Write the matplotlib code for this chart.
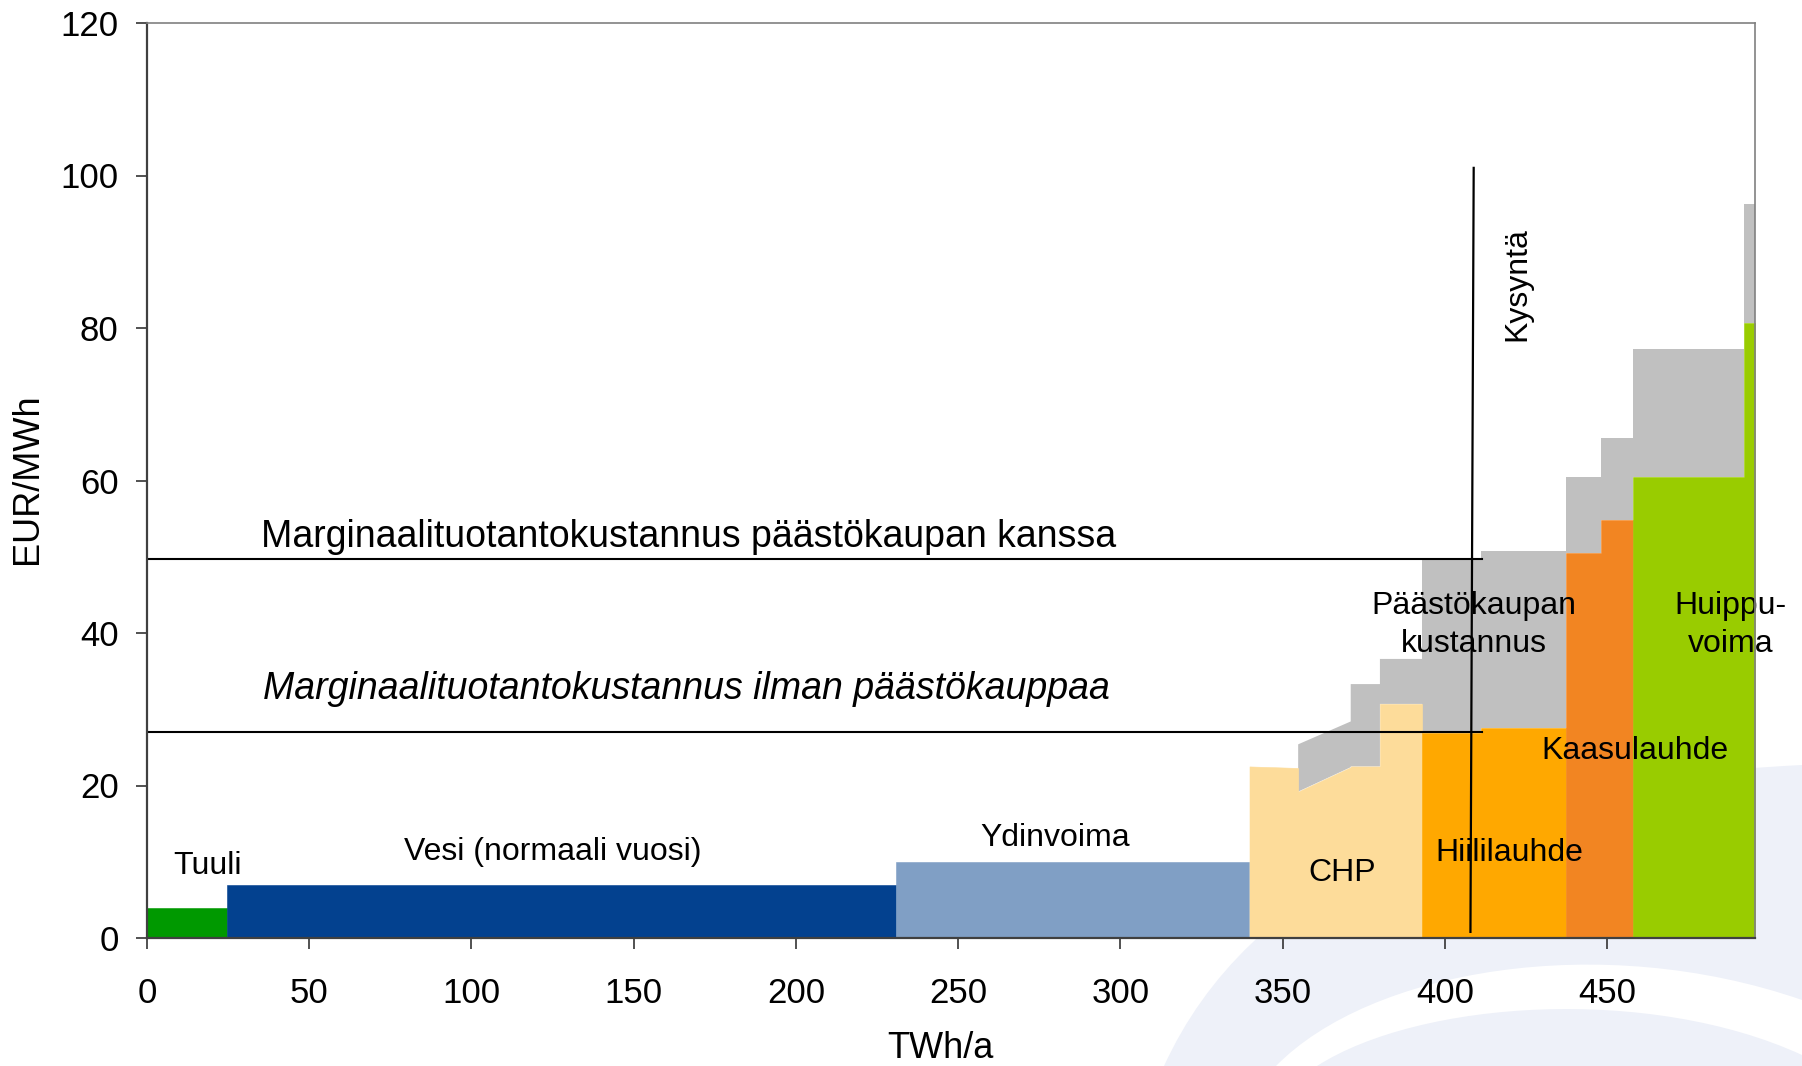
import matplotlib
matplotlib.use("Agg")
import matplotlib.pyplot as plt
from matplotlib.path import Path
from matplotlib.patches import PathPatch

plt.rcParams['font.family'] = ['Liberation Sans', 'DejaVu Sans']

# ---------------- data ----------------
tuuli_x = [0, 24.8]
tuuli_cost = [4.0, 4.0]
tuuli_co2 = [4.0, 4.0]

vesi_x = [24.8, 231]
vesi_cost = [7.0, 7.0]
vesi_co2 = [7.0, 7.0]

ydin_x = [231, 339.8]
ydin_cost = [10.0, 10.0]
ydin_co2 = [10.0, 10.0]

chp_x = [339.8, 354.8, 354.8, 371, 371, 380, 380, 393]
chp_cost = [22.5, 22.3, 19.2, 22.4, 22.5, 22.5, 30.7, 30.7]
chp_co2 = [22.5, 22.3, 25.4, 28.4, 33.3, 33.3, 36.6, 36.6]

hiili_x = [393, 411, 411, 437.2]
hiili_cost = [26.9, 26.9, 27.6, 27.6]
hiili_co2 = [49.7, 49.7, 50.7, 50.7]

kaasu_x = [437.2, 448, 448, 458]
kaasu_cost = [50.5, 50.5, 54.8, 54.8]
kaasu_co2 = [60.5, 60.5, 65.6, 65.6]

huippu_x = [458, 492.3, 492.3, 495.6]
huippu_cost = [60.5, 60.5, 80.7, 80.7]
huippu_co2 = [77.3, 77.3, 96.3, 96.3]

demand_x = [407.9, 408.9]
demand_y = [0.8, 101]

price_with_co2 = 49.7
price_without_co2 = 27.0
price_line_end = 411.5

x_ticks = [0, 50, 100, 150, 200, 250, 300, 350, 400, 450]
y_ticks = [0, 20, 40, 60, 80, 100, 120]

# ---------------- colours ----------------
c_tuuli = '#009900'
c_vesi = '#03418F'
c_ydin = '#809FC5'
c_chp = '#FDDC9A'
c_hiili = '#FFA800'
c_kaasu = '#F28522'
c_huippu = '#99CC00'
c_grey = '#C0C0C0'
c_wm = '#EEF1F9'

W, H = 1802, 1066
fig = plt.figure(figsize=(W / 100, H / 100), dpi=100)
fig.patch.set_facecolor('white')


# ---------------- watermark (background decoration) ----------------
def P(x, y):
    return (x / W, 1 - y / H)


wm_outer = Path([P(1164, 1066), P(1290, 790), P(1802, 765), P(1802, 1066), P(1164, 1066)],
                [Path.MOVETO, Path.CURVE3, Path.CURVE3, Path.LINETO, Path.CLOSEPOLY])
wm_gap = Path([P(1276, 1066), P(1370, 970), P(1600, 930), P(1802, 1000), P(1802, 1066), P(1276, 1066)],
              [Path.MOVETO, Path.CURVE4, Path.CURVE4, Path.CURVE4, Path.LINETO, Path.CLOSEPOLY])
wm_inner = Path([P(1317, 1066), P(1420, 1000), P(1650, 985), P(1802, 1055), P(1802, 1066), P(1317, 1066)],
                [Path.MOVETO, Path.CURVE4, Path.CURVE4, Path.CURVE4, Path.LINETO, Path.CLOSEPOLY])
for pth, col in [(wm_outer, c_wm), (wm_gap, 'white'), (wm_inner, c_wm)]:
    fig.patches.append(PathPatch(pth, facecolor=col, edgecolor='none',
                                 transform=fig.transFigure, zorder=-5))

# ---------------- axes ----------------
ax = fig.add_axes([147 / W, 128 / H, (1755 - 147) / W, (938 - 23) / H])
ax.set_facecolor('white')
ax.set_xlim(0, 495.6)
ax.set_ylim(0, 120)

blocks = [
    (tuuli_x, tuuli_cost, tuuli_co2, c_tuuli),
    (vesi_x, vesi_cost, vesi_co2, c_vesi),
    (ydin_x, ydin_cost, ydin_co2, c_ydin),
    (chp_x, chp_cost, chp_co2, c_chp),
    (hiili_x, hiili_cost, hiili_co2, c_hiili),
    (kaasu_x, kaasu_cost, kaasu_co2, c_kaasu),
    (huippu_x, huippu_cost, huippu_co2, c_huippu),
]
for xs, cost, co2, col in blocks:
    ax.fill_between(xs, cost, co2, facecolor=c_grey, edgecolor='none', linewidth=0, zorder=2)
    ax.fill_between(xs, 0, cost, facecolor=col, edgecolor=col, linewidth=0.4, zorder=3)

# price lines and demand
ax.plot([0, price_line_end], [price_with_co2, price_with_co2], color='black', lw=1.5, zorder=4)
ax.plot([0, price_line_end], [price_without_co2, price_without_co2], color='black', lw=1.5, zorder=4)
ax.plot(demand_x, demand_y, color='black', lw=1.6, zorder=4)

# ---------------- labels ----------------
lab_fs = 23
ax.text(18.8, 8.4, 'Tuuli', ha='center', va='baseline', fontsize=lab_fs, zorder=5)
ax.text(125, 10.2, 'Vesi (normaali vuosi)', ha='center', va='baseline', fontsize=lab_fs, zorder=5)
ax.text(280, 12.05, 'Ydinvoima', ha='center', va='baseline', fontsize=lab_fs, zorder=5)
ax.text(368.5, 7.5, 'CHP', ha='center', va='baseline', fontsize=lab_fs, zorder=5)
ax.text(420, 10.1, 'Hiililauhde', ha='center', va='baseline', fontsize=lab_fs, zorder=5)
ax.text(458.5, 23.5, 'Kaasulauhde', ha='center', va='baseline', fontsize=lab_fs, zorder=5)
ax.text(409, 37.5, 'Päästökaupan\nkustannus', ha='center', va='baseline',
        fontsize=lab_fs, zorder=5, multialignment='center', linespacing=1.37)
ax.text(488, 37.5, 'Huippu-\nvoima', ha='center', va='baseline',
        fontsize=lab_fs, zorder=5, multialignment='center', linespacing=1.37)
ax.text(422.4, 85.8, 'Kysyntä', ha='center', va='center', rotation=90,
        fontsize=lab_fs, zorder=5)

ax.text(35, 51.25, 'Marginaalituotantokustannus päästökaupan kanssa',
        ha='left', va='baseline', fontsize=27, zorder=5)
ax.text(35.8, 31.3, 'Marginaalituotantokustannus ilman päästökauppaa',
        ha='left', va='baseline', fontsize=27, style='italic', zorder=5)

# ---------------- axes styling ----------------
ax.set_xticks(x_ticks)
ax.set_yticks(y_ticks)
ax.tick_params(axis='both', direction='out', length=8, width=1.2, color='#333333',
               labelsize=25, labelcolor='black')
ax.tick_params(axis='y', pad=12.5)
ax.tick_params(axis='x', pad=20)
for s in ['left', 'bottom']:
    ax.spines[s].set_color('#404040')
    ax.spines[s].set_linewidth(1.6)
for s in ['top', 'right']:
    ax.spines[s].set_color('#808080')
    ax.spines[s].set_linewidth(1.2)
for s in ax.spines.values():
    s.set_zorder(6)

ax.set_xlabel('TWh/a', fontsize=26)
ax.xaxis.set_label_coords((940 - 147) / 1608, (938 - 1048) / 915)
ax.xaxis.label.set_verticalalignment('center')
ax.set_ylabel('EUR/MWh', fontsize=26)
ax.yaxis.set_label_coords((27.6 - 147) / 1608, (938 - 479) / 915)
ax.yaxis.label.set_verticalalignment('center')

fig.savefig('out.png', dpi=100, facecolor='white')
